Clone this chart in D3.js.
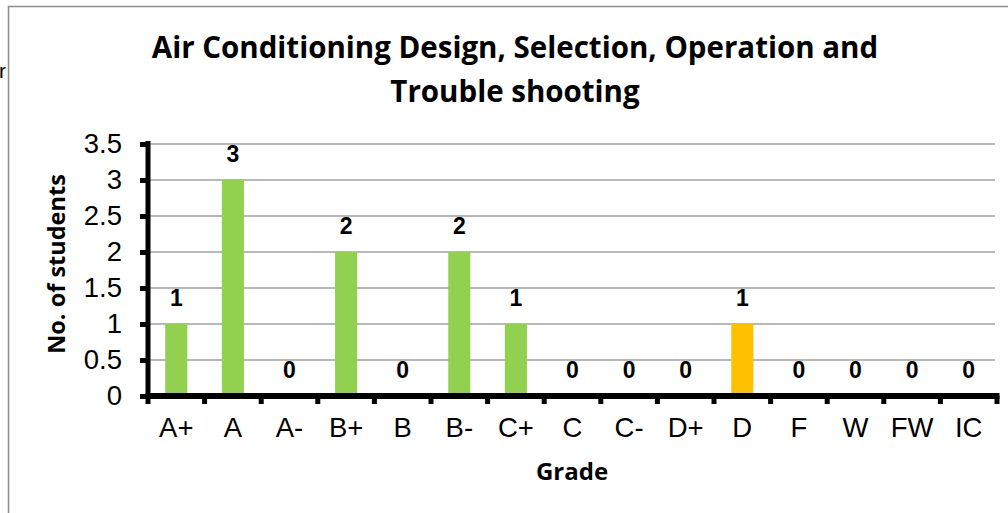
<!DOCTYPE html>
<html>
<head>
<meta charset="utf-8">
<script src="https://cdn.jsdelivr.net/npm/d3@7"></script>
<style>
  body { margin: 0; background: #fff; }
  svg { display: block; }
</style>
</head>
<body>
<svg id="chart" width="1008" height="513"></svg>
<script>
// grades and counts
var grades = ["A+", "A", "A-", "B+", "B", "B-", "C+", "C", "C-", "D+", "D", "F", "W", "FW", "IC"];
var counts = [1, 3, 0, 2, 0, 2, 1, 0, 0, 0, 1, 0, 0, 0, 0];
var barColors = ["#92D050", "#92D050", "#92D050", "#92D050", "#92D050", "#92D050", "#92D050",
                 "#92D050", "#92D050", "#92D050", "#FFC000", "#92D050", "#92D050", "#92D050", "#92D050"];
var yTicks = [0, 0.5, 1, 1.5, 2, 2.5, 3, 3.5];
var titleLines = ["Air Conditioning Design, Selection, Operation and", "Trouble shooting"];

var svg = d3.select("svg#chart");

var plotLeft = 148, plotRight = 997, plotTop = 144, plotBottom = 396;

// outer frame
svg.append("rect")
    .attr("x", 8.5).attr("y", 6.5)
    .attr("width", 1010).attr("height", 520)
    .attr("fill", "none").attr("stroke", "#8c8c8c").attr("stroke-width", 1.5);

// stray letter at the left edge
svg.append("text")
    .attr("x", -1).attr("y", 78)
    .attr("font-family", "Liberation Sans, Arial, sans-serif")
    .attr("font-size", 21).attr("fill", "#000")
    .text("r");

var x = d3.scaleBand().domain(grades).range([plotLeft, plotRight]).paddingInner(0.61).paddingOuter(0.305);
var y = d3.scaleLinear().domain([0, 3.5]).range([plotBottom, plotTop]);

// gridlines
svg.append("g")
    .selectAll("line")
    .data(yTicks.filter(function (d) { return d > 0; }))
    .enter().append("line")
    .attr("x1", plotLeft).attr("x2", plotRight - 2)
    .attr("y1", function (d) { return y(d); })
    .attr("y2", function (d) { return y(d); })
    .attr("stroke", "#a0a0a0").attr("stroke-width", 1.5);

// bars
svg.append("g")
    .selectAll("rect")
    .data(counts)
    .enter().append("rect")
    .attr("x", function (d, i) { return x(grades[i]); })
    .attr("width", x.bandwidth())
    .attr("y", function (d) { return y(d); })
    .attr("height", function (d) { return y(0) - y(d); })
    .attr("fill", function (d, i) { return barColors[i]; });

// value labels
svg.append("g")
    .selectAll("text")
    .data(counts)
    .enter().append("text")
    .attr("x", function (d, i) { return x(grades[i]) + x.bandwidth() / 2; })
    .attr("y", function (d) { return y(d) - 18; })
    .attr("text-anchor", "middle")
    .attr("font-family", "Liberation Sans, Arial, sans-serif")
    .attr("font-weight", "bold").attr("font-size", 23)
    .text(function (d) { return d; });

// y axis
var yAxis = d3.axisLeft(y).tickValues(yTicks).tickSize(8).tickPadding(18)
    .tickFormat(function (d) { return d; });
var gy = svg.append("g").attr("transform", "translate(" + plotLeft + ",0)").call(yAxis);
gy.select(".domain").attr("stroke", "#000").attr("stroke-width", 5)
    .attr("d", "M0," + (plotBottom + 3) + "V" + (plotTop - 3));
gy.selectAll(".tick line").attr("stroke", "#000").attr("stroke-width", 5);
gy.selectAll(".tick text")
    .attr("font-family", "Liberation Sans, Arial, sans-serif")
    .attr("font-size", 27.5).attr("fill", "#000");

// x axis: ticks on the band edges
var edges = grades.map(function (g) { return x(g) - x.step() * x.paddingOuter(); });
edges.push(plotRight);
var gx = svg.append("g");
gx.append("line")
    .attr("x1", plotLeft - 2.5).attr("x2", plotRight + 2.5)
    .attr("y1", plotBottom).attr("y2", plotBottom)
    .attr("stroke", "#000").attr("stroke-width", 6);
gx.selectAll("line.tk")
    .data(edges)
    .enter().append("line")
    .attr("class", "tk")
    .attr("x1", function (d) { return d; }).attr("x2", function (d) { return d; })
    .attr("y1", plotBottom).attr("y2", plotBottom + 8)
    .attr("stroke", "#000").attr("stroke-width", 5);
gx.selectAll("text")
    .data(grades)
    .enter().append("text")
    .attr("x", function (d) { return x(d) + x.bandwidth() / 2; })
    .attr("y", 437)
    .attr("text-anchor", "middle")
    .attr("font-family", "Liberation Sans, Arial, sans-serif")
    .attr("font-size", 27.5)
    .text(function (d) { return d; });

// axis titles
svg.append("text")
    .attr("transform", "translate(65,264) rotate(-90)")
    .attr("text-anchor", "middle")
    .attr("font-family", "Open Sans, sans-serif")
    .attr("font-weight", "bold").attr("font-size", 23.5)
    .text("No. of students");

svg.append("text")
    .attr("x", 572).attr("y", 480)
    .attr("text-anchor", "middle")
    .attr("font-family", "Open Sans, sans-serif")
    .attr("font-weight", "bold").attr("font-size", 24)
    .text("Grade");

// title
svg.append("g")
    .selectAll("text")
    .data(titleLines)
    .enter().append("text")
    .attr("x", 515)
    .attr("y", function (d, i) { return 58 + i * 44; })
    .attr("text-anchor", "middle")
    .attr("font-family", "Open Sans, sans-serif")
    .attr("font-weight", "bold").attr("font-size", 29.5)
    .text(function (d) { return d; });
</script>
</body>
</html>
